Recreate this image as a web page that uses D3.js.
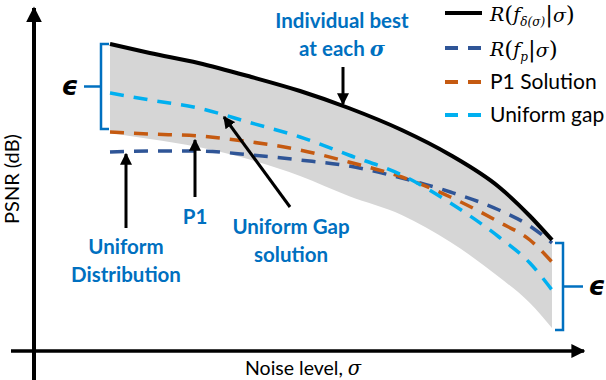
<!DOCTYPE html>
<html>
<head>
<meta charset="utf-8">
<script src="https://cdn.jsdelivr.net/npm/d3@7"></script>
<style>
  body { margin: 0; background: #fff; }
  svg { display: block; }
</style>
</head>
<body>
<div id="chart"></div>
<script>
"use strict";

const width = 606,
      height = 380;

// noise level (normalised) and PSNR-like values
const sigma       = [0, 0.09, 0.2, 0.32, 0.43, 0.54, 0.66, 0.77, 0.88, 0.95, 1.0];
const bestEach    = [30.7, 29.8, 28.8, 27.4, 26.0, 24.3, 22.1, 19.6, 16.4, 13.5, 11.1];
const bandLow     = [21.8, 21.2, 20.4, 19.1, 17.5, 15.5, 13.6, 10.9, 7.4, 4.8, 2.3];
const uniformGap  = [25.8, 25.1, 24.3, 22.8, 21.4, 19.6, 17.6, 14.8, 11.4, 8.8, 6.1];
const p1Solution  = [21.9, 21.7, 21.5, 20.9, 20.1, 18.9, 17.4, 15.4, 12.9, 11.1, 8.9];
const uniformDist = [19.9, 20.0, 20.0, 19.6, 19.1, 18.5, 17.3, 15.9, 14.1, 12.5, 10.8];

const legendNames = ["best", "fp", "P1 Solution", "Uniform gap"];
const colors = {
    black: "#000000",
    navy: "#2f5597",
    orange: "#c55a11",
    cyan: "#00b0f0",
    band: "#d6d6d6",
    label: "#0070c0"
};

const x = d3.scaleLinear().domain([0, 1]).range([110, 552]);
const y = d3.scaleLinear().domain([0, 32]).range([351, 31]);

const svg = d3.select("#chart")
    .append("svg")
    .attr("width", width)
    .attr("height", height);

const defs = svg.append("defs");
defs.append("marker")
    .attr("id", "head")
    .attr("viewBox", "0 0 10 10")
    .attr("refX", 9)
    .attr("refY", 5)
    .attr("markerWidth", 4)
    .attr("markerHeight", 4)
    .attr("markerUnits", "strokeWidth")
    .attr("orient", "auto")
    .append("path")
    .attr("d", "M0,0 L10,5 L0,10 z")
    .attr("fill", "#000");

const rows = sigma.map((s, i) => ({
    s: s, best: bestEach[i], low: bandLow[i], gap: uniformGap[i],
    p1: p1Solution[i], uni: uniformDist[i]
}));

// grey band between best curve and the lower bound
const area = d3.area()
    .x(d => x(d.s))
    .y0(d => y(d.low))
    .y1(d => y(d.best))
    .curve(d3.curveMonotoneX);

svg.append("path")
    .datum(rows)
    .attr("fill", colors.band)
    .attr("d", area);

function drawLine(key, color, dashed) {
    const line = d3.line()
        .x(d => x(d.s))
        .y(d => y(d[key]))
        .curve(d3.curveMonotoneX);
    svg.append("path")
        .datum(rows)
        .attr("fill", "none")
        .attr("stroke", color)
        .attr("stroke-width", dashed ? 3.5 : 4)
        .attr("stroke-dasharray", dashed ? "14,10" : null)
        .attr("d", line);
}

drawLine("uni", colors.navy, true);
drawLine("p1", colors.orange, true);
drawLine("gap", colors.cyan, true);
drawLine("best", colors.black, false);

// axes
svg.append("line")
    .attr("x1", 34).attr("y1", 380)
    .attr("x2", 34).attr("y2", 8)
    .attr("stroke", "#000").attr("stroke-width", 4)
    .attr("marker-end", "url(#head)");

svg.append("line")
    .attr("x1", 11).attr("y1", 351)
    .attr("x2", 584).attr("y2", 351)
    .attr("stroke", "#000").attr("stroke-width", 3.5)
    .attr("marker-end", "url(#head)");

svg.append("text")
    .attr("transform", "translate(19,179) rotate(-90)")
    .attr("text-anchor", "middle")
    .style("font-family", "Lato")
    .style("font-size", "20px")
    .text("PSNR (dB)");

const xl = svg.append("text")
    .attr("x", 245).attr("y", 375)
    .style("font-family", "Lato")
    .style("font-size", "19.5px");
xl.append("tspan").text("Noise level, ");
xl.append("tspan").style("font-family", "DejaVu Serif").style("font-style", "italic").text("σ");

// epsilon brackets
function bracket(xb, y0, y1, dir, tickEnd, epsX) {
    const c = svg.append("g").attr("stroke", colors.label).attr("stroke-width", 2.5).attr("fill", "none");
    c.append("path")
        .attr("d", "M" + (xb + dir * 8) + "," + y0 + " L" + xb + "," + y0 +
                   " L" + xb + "," + y1 + " L" + (xb + dir * 8) + "," + y1);
    const ym = (y0 + y1) / 2;
    c.append("line").attr("x1", xb).attr("y1", ym).attr("x2", tickEnd).attr("y2", ym);
    svg.append("text")
        .attr("x", epsX).attr("y", ym + 8)
        .attr("text-anchor", "middle")
        .style("font-family", "DejaVu Sans")
        .style("font-style", "italic")
        .style("font-weight", "bold")
        .style("font-size", "26px")
        .text("ϵ");
}
bracket(101, y(bestEach[0]), y(bandLow[0]) - 4, 1, 84, 70);
bracket(563, y(bestEach[10]) + 3, y(bandLow[10]) + 2, -1, 583, 597);

// annotations
function arrow(x1, y1, x2, y2) {
    svg.append("line")
        .attr("x1", x1).attr("y1", y1)
        .attr("x2", x2).attr("y2", y2)
        .attr("stroke", "#000").attr("stroke-width", 3)
        .attr("marker-end", "url(#head)");
}

function label(lines, cx, y0, dy) {
    const t = svg.append("text")
        .attr("text-anchor", "middle")
        .attr("fill", colors.label)
        .style("font-family", "Lato")
        .style("font-weight", "bold")
        .style("font-size", "20.5px");
    lines.forEach((l, i) => {
        const ts = t.append("tspan").attr("x", cx).attr("y", y0 + i * dy);
        if (l.endsWith("σ")) {
            ts.text(l.slice(0, -1));
            ts.append("tspan").style("font-family", "DejaVu Serif").style("font-style", "italic").text("σ");
        } else {
            ts.text(l);
        }
    });
}

label(["Individual best", "at each σ"], 342, 28, 28);
arrow(343, 67, 343, 104);

label(["Uniform", "Distribution"], 126, 254, 28);
arrow(126, 228, 126, y(uniformDist[0]) + 2);

label(["P1"], 195, 224, 0);
arrow(195, 197, 195, 140);

label(["Uniform Gap", "solution"], 291, 234, 28);
arrow(290, 207, 224, 117);

// legend
const legend = svg.append("g");
const legendY = [13, 48, 82, 115];
const legendColors = [colors.black, colors.navy, colors.orange, colors.cyan];
legendNames.forEach((name, i) => {
    legend.append("line")
        .attr("x1", 445).attr("x2", 482)
        .attr("y1", legendY[i]).attr("y2", legendY[i])
        .attr("stroke", legendColors[i])
        .attr("stroke-width", 4)
        .attr("stroke-dasharray", i === 0 ? null : "13,10");
    if (i === 0 || i === 1) {
        const t = legend.append("text")
            .attr("x", 490).attr("y", legendY[i] + 8)
            .style("font-family", "DejaVu Serif")
            .style("font-size", "19px");
        t.append("tspan").style("font-style", "italic").text("R");
        t.append("tspan").style("font-size", "23px").attr("dy", 1).text("(");
        t.append("tspan").style("font-style", "italic").attr("dy", -1).text("f");
        t.append("tspan").style("font-style", "italic").style("font-size", "12px").attr("dy", 5)
            .text(i === 0 ? "δ(σ)" : "p");
        t.append("tspan").style("font-size", "23px").attr("dy", -4).text("|");
        t.append("tspan").style("font-style", "italic").attr("dy", 0).text("σ");
        t.append("tspan").style("font-size", "23px").attr("dy", 0).text(")");
    } else {
        legend.append("text")
            .attr("x", 490).attr("y", legendY[i] + 7)
            .style("font-family", "Lato")
            .style("font-size", "21px")
            .text(name);
    }
});
</script>
</body>
</html>
